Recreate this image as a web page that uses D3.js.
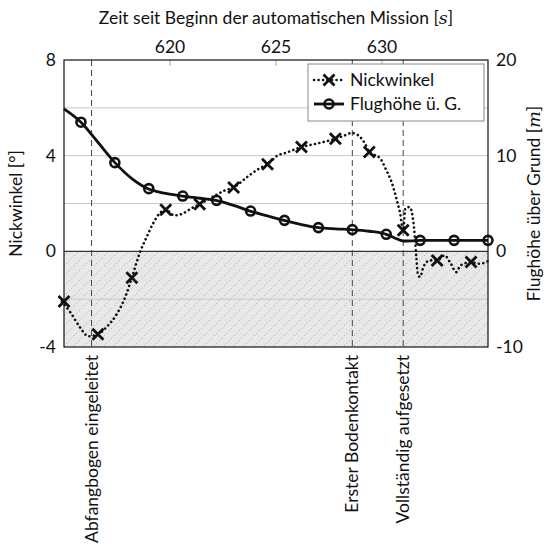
<!DOCTYPE html>
<html>
<head>
<meta charset="utf-8">
<script src="https://cdn.jsdelivr.net/npm/d3@7"></script>
<style>
  body { margin: 0; background: #fff; }
  text { font-family: Lato, sans-serif; fill: #111; font-size: 17.5px; }
</style>
</head>
<body>
<svg id="chart" width="553" height="544"></svg>
<script>
  // ticks
  var timeTicks = [620, 625, 630];
  var pitchTicks = [-4, 0, 4, 8];
  var heightTicks = [-10, 0, 10, 20];
  var pitchGrid = [-2, 2, 4, 6];

  // Flughoehe ueber Grund [m]
  var altTime  = [615.0, 615.8, 616.6, 617.4, 618.2, 618.96, 619.5, 619.8, 620.58, 621.4, 622.17, 623.0, 623.77, 624.6, 625.1, 625.38, 626.2, 627.0, 627.8, 628.57, 629.4, 630.2, 630.6, 631.0, 631.4, 631.8, 632.6, 633.4, 634.2, 635.0];
  var altValue = [14.9, 13.5, 11.4, 9.27, 7.6, 6.55, 6.2, 6.05, 5.78, 5.55, 5.33, 4.8, 4.21, 3.7, 3.4, 3.24, 2.8, 2.48, 2.35, 2.27, 2.1, 1.78, 1.4, 1.08, 1.1, 1.15, 1.15, 1.15, 1.15, 1.15];
  var altMarkTime  = [615.8, 617.4, 619.0, 620.6, 622.2, 623.8, 625.4, 627.0, 628.6, 630.2, 631.8, 633.4, 635.0];
  var altMarkValue = [13.5, 9.27, 6.55, 5.78, 5.33, 4.21, 3.24, 2.48, 2.27, 1.78, 1.15, 1.15, 1.15];

  // Nickwinkel [deg]
  var pitchTime  = [614.9, 615.3, 615.75, 616.15, 616.6, 617.0, 617.5, 617.95, 618.2, 618.6, 618.9, 619.2, 619.5, 619.8, 620.2, 620.6, 621.0, 621.4, 622.0, 622.6, 623.0, 623.6, 624.2, 624.6, 625.1, 625.4, 626.2, 626.9, 627.8, 628.25, 628.57, 628.88, 629.2, 629.4, 629.9, 630.2, 630.45, 630.65, 630.85, 631.0, 631.1, 631.3, 631.45, 631.55, 631.62, 631.7, 631.8, 631.95, 632.25, 632.6, 632.95, 633.25, 633.5, 633.7, 634.2, 634.6, 635.0];
  var pitchValue = [-2.1, -2.55, -3.17, -3.55, -3.47, -3.17, -2.61, -1.77, -1.1, 0, 0.6, 1.16, 1.58, 1.74, 1.5, 1.58, 1.79, 1.97, 2.27, 2.55, 2.67, 3.08, 3.46, 3.64, 4.02, 4.1, 4.36, 4.5, 4.71, 4.85, 4.95, 4.85, 4.5, 4.15, 3.9, 3.4, 2.9, 2.3, 1.6, 0.88, 1.8, 1.85, 1.43, 0.6, -0.24, -1.0, -1.07, -0.66, -0.38, -0.38, -0.17, -0.52, -0.87, -0.59, -0.45, -0.52, -0.41];
  var pitchMarkTime  = [615.0, 616.6, 618.2, 619.8, 621.4, 623.0, 624.6, 626.2, 627.8, 629.4, 631.0, 632.6, 634.2];
  var pitchMarkValue = [-2.1, -3.47, -1.1, 1.74, 1.97, 2.67, 3.64, 4.36, 4.71, 4.15, 0.88, -0.38, -0.45];

  // Ereignisse
  var eventTime  = [616.3, 628.6, 631.0];
  var eventLabel = ["Abfangbogen eingeleitet", "Erster Bodenkontakt", "Vollständig aufgesetzt"];

  var svg = d3.select("#chart");
  var pL = 64, pR = 488, pT = 60, pB = 347;

  var x = d3.scaleLinear().domain([615, 635]).range([pL, pR]);
  var yL = d3.scaleLinear().domain([-4, 8]).range([pB, pT]);
  var yR = d3.scaleLinear().domain([-10, 20]).range([pB, pT]);

  // hatch pattern for the region below zero
  var defs = svg.append("defs");
  var pat = defs.append("pattern")
    .attr("id", "hatch")
    .attr("patternUnits", "userSpaceOnUse")
    .attr("width", 10).attr("height", 10);
  pat.append("rect").attr("width", 10).attr("height", 10).attr("fill", "#e8e8e8");
  pat.append("path")
    .attr("d", "M-1,11 L11,-1")
    .attr("stroke", "#7a7a7a")
    .attr("stroke-width", 0.7)
    .attr("stroke-dasharray", "1,2.5");

  svg.append("rect")
    .attr("x", pL).attr("y", yL(0))
    .attr("width", pR - pL).attr("height", yL(-4) - yL(0))
    .attr("fill", "url(#hatch)");

  // grid
  svg.append("g").selectAll("line")
    .data(pitchGrid)
    .enter().append("line")
    .attr("x1", pL).attr("x2", pR)
    .attr("y1", function(d) { return yL(d); })
    .attr("y2", function(d) { return yL(d); })
    .attr("stroke", "#c8c8c8").attr("stroke-width", 1);

  // top ticks (inward)
  svg.append("g").selectAll("line")
    .data(timeTicks)
    .enter().append("line")
    .attr("x1", function(d) { return x(d); })
    .attr("x2", function(d) { return x(d); })
    .attr("y1", pT).attr("y2", pT + 6)
    .attr("stroke", "#aaa");

  // zero line
  svg.append("line")
    .attr("x1", pL).attr("x2", pR)
    .attr("y1", yL(0)).attr("y2", yL(0))
    .attr("stroke", "#333").attr("stroke-width", 1.2);

  // event lines + labels
  var ev = svg.append("g").selectAll("g")
    .data(eventTime)
    .enter().append("g");
  ev.append("line")
    .attr("x1", function(d) { return x(d); })
    .attr("x2", function(d) { return x(d); })
    .attr("y1", pT).attr("y2", pB)
    .attr("stroke", "#444").attr("stroke-width", 1)
    .attr("stroke-dasharray", "6,4");
  ev.append("text")
    .attr("transform", function(d) { return "translate(" + x(d) + "," + (pB + 8) + ") rotate(-90)"; })
    .attr("text-anchor", "end")
    .attr("dy", "0.35em")
    .text(function(d, i) { return eventLabel[i]; });

  // altitude line
  var altLine = d3.line()
    .x(function(d, i) { return x(altTime[i]); })
    .y(function(d) { return yR(d); })
    .curve(d3.curveMonotoneX);
  svg.append("path")
    .attr("d", altLine(altValue))
    .attr("fill", "none").attr("stroke", "#111").attr("stroke-width", 2.8);

  svg.append("g").selectAll("circle")
    .data(altMarkValue)
    .enter().append("circle")
    .attr("cx", function(d, i) { return x(altMarkTime[i]); })
    .attr("cy", function(d) { return yR(d); })
    .attr("r", 4.5)
    .attr("fill", "none").attr("stroke", "#111").attr("stroke-width", 2.6);

  // pitch line
  var pitchLine = d3.line()
    .x(function(d, i) { return x(pitchTime[i]); })
    .y(function(d) { return yL(d); })
    .curve(d3.curveMonotoneX);
  svg.append("path")
    .attr("d", pitchLine(pitchValue))
    .attr("fill", "none").attr("stroke", "#111").attr("stroke-width", 2.6)
    .attr("stroke-linecap", "round")
    .attr("stroke-dasharray", "0.1,4.4");

  function cross(g, cx, cy, s) {
    g.append("path")
      .attr("d", "M" + (cx - s) + "," + (cy - s) + "L" + (cx + s) + "," + (cy + s) +
                 "M" + (cx - s) + "," + (cy + s) + "L" + (cx + s) + "," + (cy - s))
      .attr("stroke", "#111").attr("stroke-width", 2.8).attr("fill", "none");
  }
  var marks = svg.append("g");
  for (var i = 0; i < pitchMarkTime.length; i++) {
    cross(marks, x(pitchMarkTime[i]), yL(pitchMarkValue[i]), 5.5);
  }

  // frame
  svg.append("rect")
    .attr("x", pL).attr("y", pT)
    .attr("width", pR - pL).attr("height", pB - pT)
    .attr("fill", "none").attr("stroke", "#111").attr("stroke-width", 1.2);

  // tick labels
  svg.append("g").selectAll("text")
    .data(timeTicks)
    .enter().append("text")
    .attr("x", function(d) { return x(d); })
    .attr("y", pT - 7)
    .attr("text-anchor", "middle")
    .text(function(d) { return d; });

  svg.append("g").selectAll("text")
    .data(pitchTicks)
    .enter().append("text")
    .attr("x", pL - 8)
    .attr("y", function(d) { return yL(d); })
    .attr("dy", "0.35em")
    .attr("text-anchor", "end")
    .text(function(d) { return d; });

  svg.append("g").selectAll("text")
    .data(heightTicks)
    .enter().append("text")
    .attr("x", pR + 8)
    .attr("y", function(d) { return yR(d); })
    .attr("dy", "0.35em")
    .attr("text-anchor", "start")
    .text(function(d) { return d; });

  // axis titles
  var t1 = svg.append("text")
    .attr("x", (pL + pR) / 2).attr("y", 24)
    .attr("text-anchor", "middle");
  t1.append("tspan").text("Zeit seit Beginn der automatischen Mission [");
  t1.append("tspan").style("font-style", "italic").style("font-family", "'DejaVu Serif', serif").text("s");
  t1.append("tspan").text("]");

  svg.append("text")
    .attr("transform", "translate(22," + ((pT + pB) / 2) + ") rotate(-90)")
    .attr("text-anchor", "middle")
    .text("Nickwinkel [°]");

  var t3 = svg.append("text")
    .attr("transform", "translate(540," + ((pT + pB) / 2) + ") rotate(-90)")
    .attr("text-anchor", "middle");
  t3.append("tspan").text("Flughöhe über Grund [");
  t3.append("tspan").style("font-style", "italic").style("font-family", "'DejaVu Serif', serif").text("m");
  t3.append("tspan").text("]");

  // legend
  var lg = svg.append("g");
  lg.append("rect")
    .attr("x", 308).attr("y", 64).attr("width", 176).attr("height", 57)
    .attr("fill", "#fff").attr("stroke", "#888").attr("stroke-width", 1);
  lg.append("line")
    .attr("x1", 314).attr("x2", 344).attr("y1", 80).attr("y2", 80)
    .attr("stroke", "#111").attr("stroke-width", 2.6)
    .attr("stroke-linecap", "round").attr("stroke-dasharray", "0.1,4.4");
  cross(lg, 329, 80, 5.5);
  lg.append("text").attr("x", 350).attr("y", 80).attr("dy", "0.35em")
    .text("Nickwinkel");
  lg.append("line")
    .attr("x1", 314).attr("x2", 344).attr("y1", 104).attr("y2", 104)
    .attr("stroke", "#111").attr("stroke-width", 2.8);
  lg.append("circle").attr("cx", 329).attr("cy", 104).attr("r", 4.5)
    .attr("fill", "none").attr("stroke", "#111").attr("stroke-width", 2.6);
  lg.append("text").attr("x", 350).attr("y", 104).attr("dy", "0.35em")
    .text("Flughöhe ü. G.");
</script>
</body>
</html>
